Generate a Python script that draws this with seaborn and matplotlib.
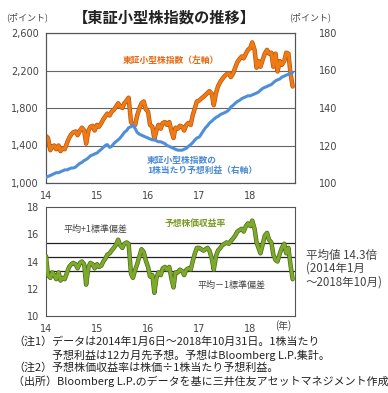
import pandas as pd
import numpy as np
import seaborn as sns
import matplotlib
matplotlib.use('Agg')
import matplotlib.pyplot as plt
import matplotlib.patheffects as pe

# データ（半月ごとの読み取り値、2014年1月～2018年10月末）
fechas = list(pd.date_range('2014-01-01', '2018-10-15', freq='SMS')) + [pd.Timestamp('2018-10-31')]

indice = [1500, 1480, 1350, 1390, 1400, 1360, 1400, 1340, 1370, 1360, 1430, 1480,
          1520, 1540, 1550, 1510, 1560, 1590, 1560, 1420, 1560, 1600, 1610, 1560,
          1620, 1600, 1640, 1680, 1710, 1740, 1720, 1760, 1780, 1810, 1850, 1820,
          1800, 1850, 1880, 1910, 1650, 1620, 1620, 1720, 1800, 1850, 1870, 1790,
          1760, 1620, 1600, 1470, 1560, 1620, 1580, 1640, 1650, 1620, 1650, 1560,
          1480, 1590, 1580, 1610, 1600, 1560, 1620, 1640, 1620, 1720, 1800, 1870,
          1880, 1900, 1920, 1940, 1960, 1980, 1950, 1830, 1960, 2030, 2080, 2110,
          2140, 2160, 2170, 2130, 2170, 2230, 2290, 2320, 2350, 2330, 2380, 2420,
          2440, 2500, 2420, 2230, 2300, 2240, 2320, 2380, 2420, 2380, 2390, 2240,
          2380, 2190, 2300, 2260, 2300, 2390, 2380, 2180, 2030]

eps = [103, 103.5, 104, 104.5, 105, 105.5, 105.5, 106, 106.5, 107, 107, 107.5,
       108, 108, 108.5, 109.5, 110.5, 111, 112, 112.5, 113.5, 114.5, 115, 115.5,
       116, 117, 118, 119, 120, 120.5, 119, 119.5, 121, 122, 123, 124,
       125.5, 127, 128, 129.5, 130, 131, 129, 127, 126, 125.5, 125, 124.5,
       124, 123.5, 123, 123, 122.5, 122, 122, 121.5, 121, 120, 119.5, 119,
       118.5, 118, 117.5, 117.5, 117.5, 118, 118.5, 119.5, 120.5, 121.5, 123, 124,
       124.5, 126, 128, 129.5, 130.5, 132, 133, 134, 135, 135.5, 136.5, 137,
       137.5, 138, 139, 140.5, 141.5, 142.5, 143.5, 144, 145, 145.5, 146, 146.5,
       146.5, 147, 147.5, 148, 148.5, 149.5, 150.5, 151, 151.5, 152, 152.5, 153.5,
       154.5, 155, 155.5, 156.5, 157, 157.5, 158, 158.5, 159]

per = [14.4, 13.0, 12.8, 13.2, 13.0, 12.7, 13.2, 12.6, 12.8, 12.7, 13.2, 13.6,
       13.8, 13.9, 13.8, 13.5, 13.9, 14.0, 13.8, 12.3, 13.6, 13.9, 13.8, 13.5,
       13.8, 13.6, 13.7, 14.0, 14.2, 14.5, 14.6, 14.8, 15.0, 15.2, 15.6, 15.2,
       15.0, 15.3, 15.4, 15.3, 13.1, 12.8, 13.4, 13.8, 14.4, 14.9, 14.7, 14.1,
       13.6, 12.9, 13.0, 11.7, 12.8, 13.2, 13.0, 13.5, 13.6, 13.4, 13.6, 12.8,
       12.1, 13.2, 13.2, 13.4, 13.3, 13.0, 13.4, 13.5, 13.4, 14.0, 14.6, 15.0,
       15.0, 14.9, 14.8, 14.9, 15.0, 14.8, 14.2, 13.4, 14.4, 14.8, 15.0, 15.2,
       15.3, 15.4, 15.3, 15.5, 15.7, 15.9, 16.2, 16.3, 16.4, 16.2, 16.6, 16.8,
       16.6, 17.0, 16.4, 15.4, 15.0, 14.6, 15.3, 15.9, 16.1, 15.6, 15.4, 14.5,
       14.1, 14.0, 14.6, 15.0, 15.3, 14.6, 15.0, 13.8, 12.7]

promedio = 14.3
banda = [15.35, 14.3, 13.3]
anios = ['14', '15', '16', '17', '18']

sns.set_style('white')
plt.rcParams['font.family'] = ['Noto Sans CJK JP', 'DejaVu Sans']
gris = '#444444'

W, H = 388, 393
fig = plt.figure(figsize=(W / 100, H / 100), dpi=100)
def px(x, y):
  return x / W, 1 - y / H

ax1 = fig.add_axes([46 / W, 1 - 183 / H, 249 / W, 150 / H])
ax2 = ax1.twinx()
ax3 = fig.add_axes([46 / W, 1 - 316 / H, 249 / W, 109 / H])

xticks = [pd.Timestamp('20%s-01-01' % a) for a in anios]
xlim = (pd.Timestamp('2014-01-01'), pd.Timestamp('2018-11-17'))

# gráfico superior
borde = lambda c: [pe.Stroke(linewidth=3.2, foreground=c), pe.Normal()]
sns.lineplot(x=fechas, y=indice, ax=ax1, color='#F07A14', lw=2.2,
             path_effects=borde('#B9560C'), zorder=3)
sns.lineplot(x=fechas, y=eps, ax=ax2, color='#4F8FDA', lw=2.2, zorder=3)
ax1.set_ylim(1000, 2600)
ax1.set_yticks([1000, 1400, 1800, 2200, 2600])
ax1.set_yticklabels(['{:,}'.format(v) for v in [1000, 1400, 1800, 2200, 2600]])
ax2.set_ylim(100, 180)
ax2.set_yticks([100, 120, 140, 160, 180])
ax1.grid(axis='y', color='#666666', lw=0.8)
ax2.grid(False)

# gráfico inferior
for v in banda:
  ax3.axhline(v, color='#222222', lw=0.9, zorder=1)
sns.lineplot(x=fechas, y=per, ax=ax3, color='#7DAA2C', lw=2.2,
             path_effects=borde('#4E6B18'), zorder=3)
ax3.set_ylim(10, 18)
ax3.set_yticks([10, 12, 14, 16, 18])

for ax in [ax1, ax2, ax3]:
  ax.set_xlim(*xlim)
  ax.set_xticks(xticks)
  ax.set_xticklabels(anios)
  ax.set_xlabel('')
  ax.set_ylabel('')
  for s in ax.spines.values():
    s.set_color('#555555')
    s.set_linewidth(0.8)
  ax.tick_params(axis='x', length=3, color='#777777', pad=3)
  ax.tick_params(axis='y', length=0, pad=5)
  for t in ax.get_xticklabels() + ax.get_yticklabels():
    t.set_fontfamily('DejaVu Sans')
    t.set_fontsize(7)
    t.set_color(gris)
ax2.tick_params(axis='y', pad=17)

# textos
fig.text(*px(164, 18), '【東証小型株指数の推移】', ha='center', va='center',
         fontsize=11, fontweight='bold', color='#222222')
fig.text(*px(27, 17), '(ポイント)', ha='center', va='center', fontsize=6.5, color=gris)
fig.text(*px(310, 17), '(ポイント)', ha='center', va='center', fontsize=6.5, color=gris)
fig.text(*px(123, 60), '東証小型株指数（左軸）', ha='left', va='center',
         fontsize=6.3, fontweight='bold', color='#E8680E')
fig.text(*px(147, 160), '東証小型株指数の', ha='left', va='center',
         fontsize=6.3, fontweight='bold', color='#4A8AD6')
fig.text(*px(147, 170), '1株当たり予想利益（右軸）', ha='left', va='center',
         fontsize=6.3, fontweight='bold', color='#4A8AD6')
fig.text(*px(63, 229), '平均+1標準偏差', ha='left', va='center', fontsize=6.5, color=gris)
fig.text(*px(165, 223), '予想株価収益率', ha='left', va='center',
         fontsize=6.3, fontweight='bold', color='#7A9A24')
fig.text(*px(198, 285), '平均－1標準偏差', ha='left', va='center', fontsize=6.5, color=gris)
fig.text(*px(306, 255), '平均値 %.1f倍' % promedio, ha='left', va='center', fontsize=8.3, color=gris)
fig.text(*px(306, 268), '(2014年1月', ha='left', va='center', fontsize=8.3, color=gris)
fig.text(*px(306, 282), '～2018年10月)', ha='left', va='center', fontsize=8.3, color=gris)
fig.text(*px(283, 326), '(年)', ha='center', va='center', fontsize=7, color=gris)

notas = [(13, 342, '（注1）データは2014年1月6日～2018年10月31日。1株当たり'),
         (52, 355, '予想利益は12カ月先予想。予想はBloomberg L.P.集計。'),
         (13, 368, '（注2）予想株価収益率は株価÷1株当たり予想利益。'),
         (13, 381, '（出所）Bloomberg L.P.のデータを基に三井住友アセットマネジメント作成')]
for x, y, t in notas:
  fig.text(*px(x, y), t, ha='left', va='center', fontsize=7.9, color='#222222')

fig.savefig('out.png', dpi=100)
